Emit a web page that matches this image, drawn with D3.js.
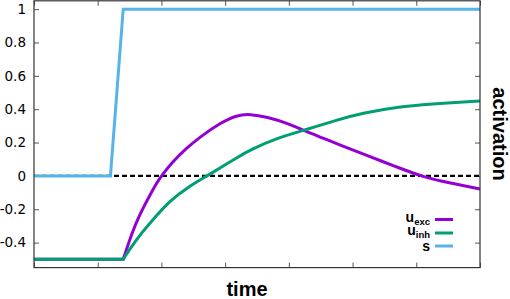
<!DOCTYPE html>
<html><head><meta charset="utf-8">
<script src="https://cdn.jsdelivr.net/npm/d3@7"></script>
<style>body{margin:0;background:#fff}svg{display:block}</style>
</head><body><svg id="c" width="510" height="299"></svg>
<script>
const seriesNames = ["u_exc", "u_inh", "s"];
const colors = ["#9400D3", "#009E73", "#56B4E9"];
const yTicks = [-0.4, -0.2, 0, 0.2, 0.4, 0.6, 0.8, 1];
const yTickLabels = ["-0.4", "-0.2", "0", "0.2", "0.4", "0.6", "0.8", "1"];
const xTicks = [0, 1, 2, 3, 4, 5, 6, 7];
const stepTime = 1.4;
const uExc = [[0,-0.5],[1.4,-0.5],[1.449,-0.444],[1.538,-0.344],[1.643,-0.245],[1.778,-0.145],[1.92,-0.044],[2.009,0.005],[2.166,0.08],[2.386,0.164],[2.605,0.233],[2.919,0.317],[3.186,0.365],[3.39,0.371],[3.657,0.353],[3.971,0.317],[4.254,0.269],[4.536,0.227],[4.803,0.185],[5.164,0.131],[5.698,0.053],[6.106,-0.007],[6.529,-0.043],[7,-0.079]];
const uInh = [[0,-0.5],[1.4,-0.5],[1.52,-0.43],[1.684,-0.344],[1.904,-0.245],[2.146,-0.145],[2.39,-0.074],[2.715,0],[2.919,0.047],[3.202,0.113],[3.39,0.155],[3.814,0.227],[4.254,0.275],[4.803,0.341],[5.164,0.377],[5.698,0.413],[6.215,0.431],[7,0.449]];
const sInput = [[0,0],[1.2,0],[1.4,1],[7,1]];

const svg = d3.select("#c");
const L = 34, R = 480, T = 0.8, B = 267.6;
const x = d3.scaleLinear().domain([0, 7]).range([L, R]);
const y = d3.scaleLinear().domain([-0.55, 1.05]).range([B, T]);

const tickCol = "#555";
const g = svg.append("g");
g.append("g").attr("transform", `translate(0,${B})`)
  .call(d3.axisBottom(x).tickValues(xTicks).tickSize(-5).tickFormat(""))
  .call(a => a.select(".domain").remove());
g.append("g").attr("transform", `translate(0,${T})`)
  .call(d3.axisTop(x).tickValues(xTicks).tickSize(-5).tickFormat(""))
  .call(a => a.select(".domain").remove());
g.append("g").attr("transform", `translate(${L},0)`)
  .call(d3.axisLeft(y).tickValues(yTicks).tickSize(-5).tickPadding(8).tickFormat((d,i)=>yTickLabels[i]))
  .call(a => a.select(".domain").remove())
  .call(a => a.selectAll("text").attr("font-family","DejaVu Sans").attr("font-size",13.5).attr("fill","#000"));
g.append("g").attr("transform", `translate(${R},0)`)
  .call(d3.axisRight(y).tickValues(yTicks).tickSize(-5).tickFormat(""))
  .call(a => a.select(".domain").remove());
g.selectAll(".tick line").attr("stroke", tickCol);

svg.append("line").attr("x1", x(0)).attr("x2", x(7)).attr("y1", y(0)).attr("y2", y(0))
  .attr("stroke", "#000").attr("stroke-width", 2.2).attr("stroke-dasharray", "5,3");

const lin = d3.line().x(d => x(d[0])).y(d => y(d[1]));
const smooth = d3.line().x(d => x(d[0])).y(d => y(d[1])).curve(d3.curveBasis);
function pathFor(data) {
  const pre = data.filter(d => d[0] <= stepTime);
  const post = data.filter(d => d[0] >= stepTime);
  return lin(pre) + "L" + smooth(post).slice(1);
}
svg.append("path").attr("d", pathFor(uExc)).attr("fill","none").attr("stroke", colors[0]).attr("stroke-width", 3);
svg.append("path").attr("d", pathFor(uInh)).attr("fill","none").attr("stroke", colors[1]).attr("stroke-width", 3);
svg.append("path").attr("d", lin(sInput)).attr("fill","none").attr("stroke", colors[2]).attr("stroke-width", 3);

svg.append("rect").attr("x", L).attr("y", T).attr("width", R-L).attr("height", B-T)
  .attr("fill","none").attr("stroke","#333").attr("stroke-width",1.2);

const lg = svg.append("g").attr("font-family","Liberation Sans, Arial, sans-serif").attr("font-weight","bold");
const rowsY = [219.5, 233, 246];
const labelParts = [["u","exc"],["u","inh"],["s",""]];
labelParts.forEach((p,i)=>{
  const t = lg.append("text").attr("x", 430).attr("y", rowsY[i]+(p[1]?2:4.5)).attr("text-anchor","end").attr("font-size",14);
  t.append("tspan").text(p[0]);
  if (p[1]) t.append("tspan").attr("font-size",9.5).attr("dy",3).text(p[1]);
  lg.append("line").attr("x1",435).attr("x2",453).attr("y1",rowsY[i]).attr("y2",rowsY[i])
    .attr("stroke",colors[i]).attr("stroke-width",3);
});

svg.append("text").attr("x", 247).attr("y", 296).attr("text-anchor","middle")
  .attr("font-family","Liberation Sans, Arial, sans-serif").attr("font-weight","bold").attr("font-size",20).text("time");
svg.append("text").attr("transform","translate(493,134) rotate(90)").attr("text-anchor","middle")
  .attr("font-family","Liberation Sans, Arial, sans-serif").attr("font-weight","bold").attr("font-size",20).text("activation");
</script></body></html>
